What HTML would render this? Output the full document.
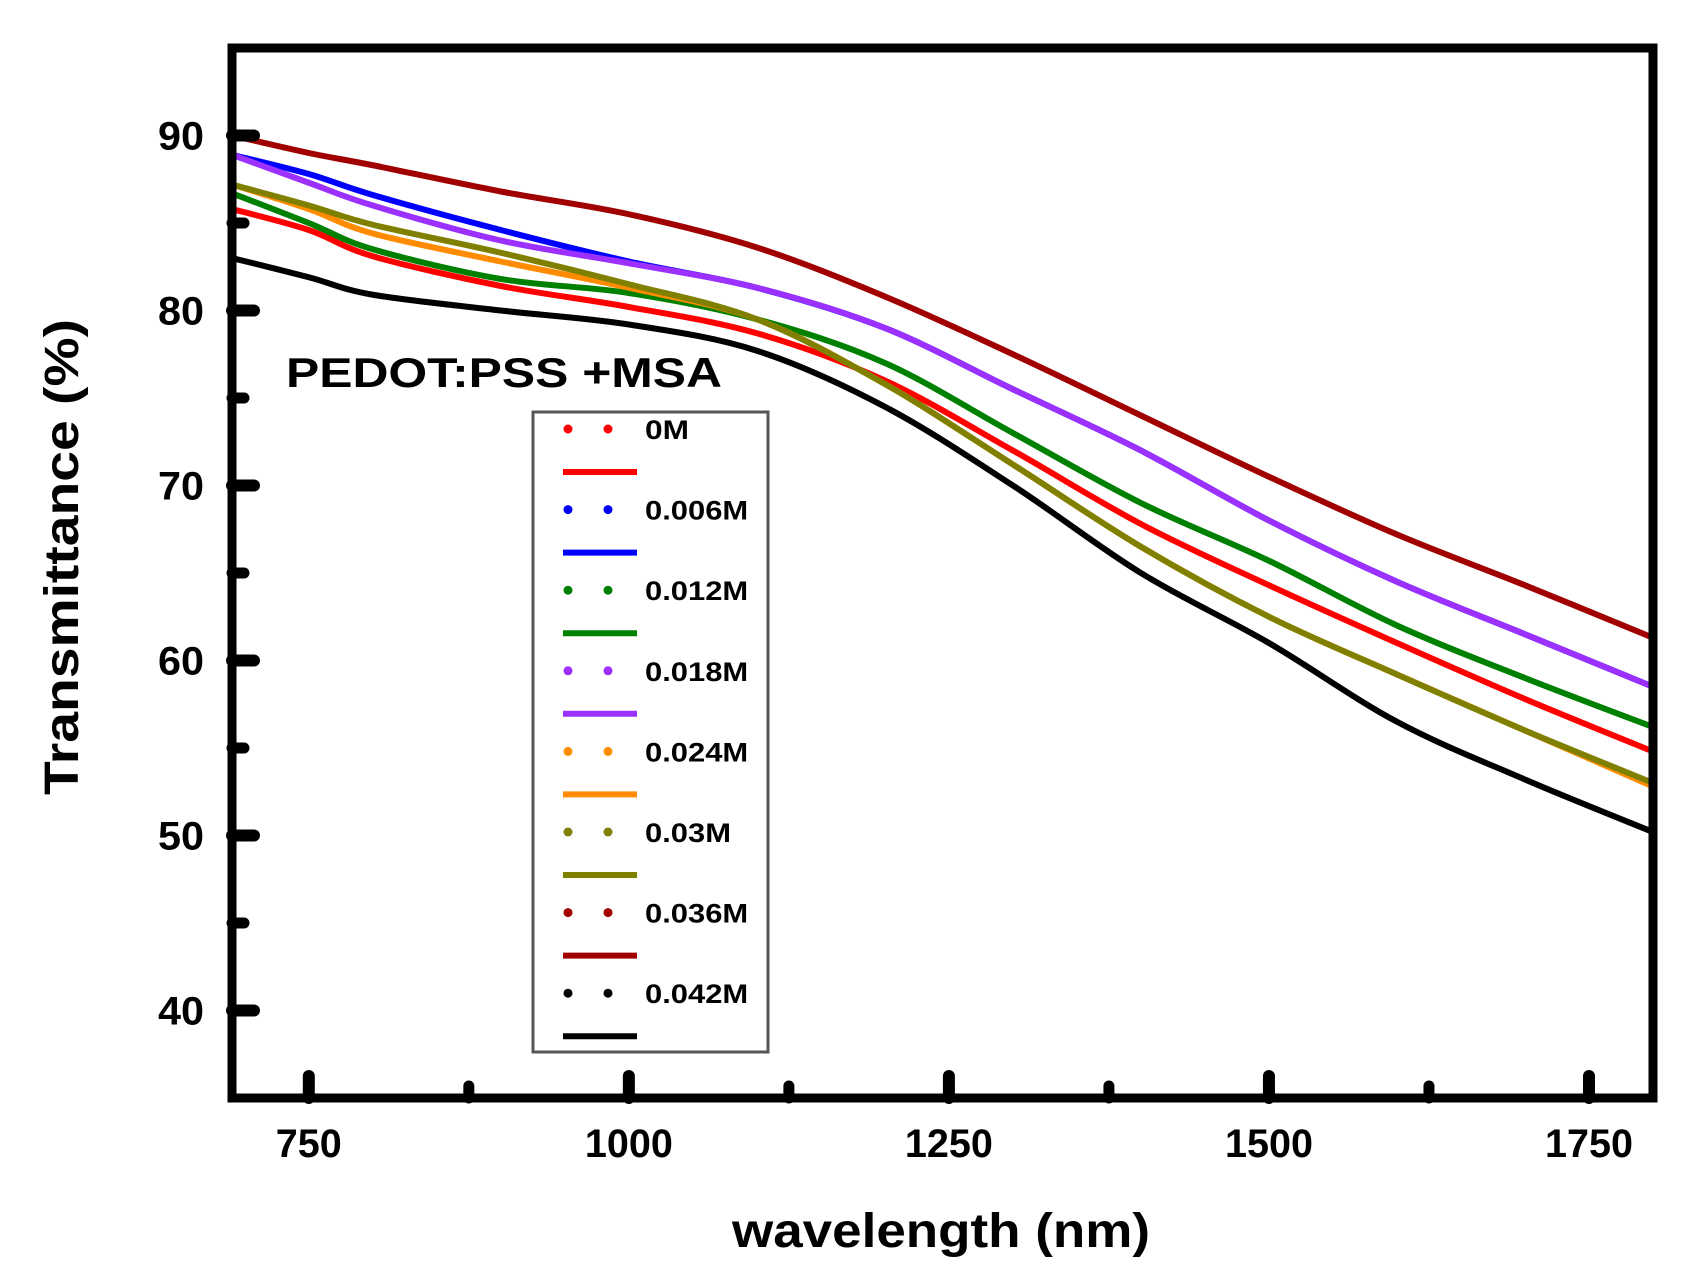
<!DOCTYPE html>
<html><head><meta charset="utf-8"><style>
html,body{margin:0;padding:0;background:#fff}
svg{display:block;font-family:"Liberation Sans",Arial,sans-serif;font-weight:bold}
</style></head><body>
<svg id="c" width="1688" height="1280" viewBox="0 0 1688 1280"></svg>
<script>
const wavelengths=[690,750,800,900,1000,1100,1200,1300,1400,1500,1600,1700,1800];
const labels=["0M","0.006M","0.012M","0.018M","0.024M","0.03M","0.036M","0.042M"];
const colors=["#ff0000","#0000ff","#008000","#9b30ff","#ff8c00","#808000","#a00000","#000000"];
const s0M=[85.8,84.6,83.1,81.4,80.2,78.7,76,72,67.8,64.3,61,57.8,54.8];
const s006=[88.9,87.8,86.6,84.6,82.8,81.3,79,75.5,72,68,64.5,61.5,58.5];
const s012=[86.7,85,83.5,81.8,81,79.5,77,73,69,65.7,62,59,56.2];
const s018=[88.9,87.3,86,84,82.7,81.3,79,75.5,72,68,64.5,61.5,58.5];
const s024=[87.2,85.8,84.4,82.8,81.3,79.5,75.8,71.2,66.5,62.5,59.2,56,52.8];
const s030=[87.2,86,84.9,83.3,81.5,79.5,75.8,71.2,66.5,62.5,59.2,56,53];
const s036=[90,89,88.3,86.8,85.5,83.6,80.8,77.5,74,70.5,67.2,64.3,61.3];
const s042=[83,81.9,80.9,80,79.2,77.7,74.5,70,65,61,56.5,53.2,50.2];
const series=[s0M,s006,s012,s018,s024,s030,s036,s042];
const xTicks=[750,1000,1250,1500,1750];
const xMinor=[875,1125,1375,1625];
const yTicks=[40,50,60,70,80,90];
const yMinor=[45,55,65,75,85];

const L=232,R=1653,T=48,B=1098;
const X0=690,X1=1800,Y0=35,Y1=95;
const xs=v=>L+(v-X0)/(X1-X0)*(R-L);
const ys=v=>B-(v-Y0)/(Y1-Y0)*(B-T);
const svg=document.getElementById('c');
const NS="http://www.w3.org/2000/svg";
function mk(tag,at,parent){const e=document.createElementNS(NS,tag);for(const k in at)e.setAttribute(k,at[k]);(parent||svg).appendChild(e);return e;}

const defs=mk('defs',{});
const cp=mk('clipPath',{id:'clip'},defs);mk('rect',{x:L,y:T,width:R-L,height:B-T},cp);

const g=mk('g',{'clip-path':'url(#clip)'});


function smooth(pts){
  let d='M'+pts[0][0]+','+pts[0][1];
  for(let i=0;i<pts.length-1;i++){
    const p0=pts[Math.max(0,i-1)],p1=pts[i],p2=pts[i+1],p3=pts[Math.min(pts.length-1,i+2)];
    const c1x=p1[0]+(p2[0]-p0[0])/6,c1y=p1[1]+(p2[1]-p0[1])/6;
    const c2x=p2[0]-(p3[0]-p1[0])/6,c2y=p2[1]-(p3[1]-p1[1])/6;
    d+=' C'+c1x+','+c1y+' '+c2x+','+c2y+' '+p2[0]+','+p2[1];
  }
  return d;
}
series.forEach((s,i)=>{
  const pts=s.map((v,j)=>[xs(wavelengths[j]),ys(v)]);
  const p=mk('path',{d:smooth(pts),fill:'none',stroke:colors[i],'stroke-width':6,'stroke-linejoin':'round'},g);
  
  
});

const fr=mk('rect',{x:L,y:T,width:R-L,height:B-T,fill:'none',stroke:'#000','stroke-width':9});



xTicks.forEach(v=>{
  const t=mk('line',{x1:xs(v),x2:xs(v),y1:B,y2:B-22,stroke:'#000','stroke-width':12,'stroke-linecap':'round'});
  
  
  const tx=mk('text',{x:xs(v),y:1157,'text-anchor':'middle','font-size':40,fill:'#000',textLength:88,lengthAdjust:'spacingAndGlyphs'});
  tx.textContent=v;
  if(String(v).length<4)tx.setAttribute('textLength',66);
  
  
});
xMinor.forEach(v=>{
  const t=mk('line',{x1:xs(v),x2:xs(v),y1:B,y2:B-12,stroke:'#000','stroke-width':11,'stroke-linecap':'round'});
  
  
});
yTicks.forEach(v=>{
  const t=mk('line',{x1:L,x2:L+22,y1:ys(v),y2:ys(v),stroke:'#000','stroke-width':12,'stroke-linecap':'round'});
  
  
  const tx=mk('text',{x:181,y:ys(v)+14,'text-anchor':'middle','font-size':40,fill:'#000',textLength:46,lengthAdjust:'spacingAndGlyphs'});
  tx.textContent=v;
  
  
});
yMinor.forEach(v=>{
  const t=mk('line',{x1:L,x2:L+12,y1:ys(v),y2:ys(v),stroke:'#000','stroke-width':11,'stroke-linecap':'round'});
  
  
});

const xt=mk('text',{x:941,y:1247,'text-anchor':'middle','font-size':48,fill:'#000',textLength:418,lengthAdjust:'spacingAndGlyphs'});
xt.textContent='wavelength (nm)';


const yt=mk('text',{x:0,y:0,transform:'translate(78,557) rotate(-90)','text-anchor':'middle','font-size':48,fill:'#000',textLength:476,lengthAdjust:'spacingAndGlyphs'});
yt.textContent='Transmittance (%)';



const an=mk('text',{x:286,y:387,'font-size':42,fill:'#000',textLength:436,lengthAdjust:'spacingAndGlyphs'});
an.textContent='PEDOT:PSS +MSA';



const lg=mk('g',{});


mk('rect',{x:533,y:412,width:235,height:640,fill:'#fff',stroke:'#555','stroke-width':3},lg);
labels.forEach((lab,i)=>{
  const y=429+i*80.6;
  const e=mk('g',{},lg);
  
  
  mk('circle',{cx:568,cy:y,r:4.5,fill:colors[i]},e);
  mk('circle',{cx:608,cy:y,r:4.5,fill:colors[i]},e);
  mk('line',{x1:563,x2:637,y1:y+43,y2:y+43,stroke:colors[i],'stroke-width':6},e);
  const w=lab==='0M'?44:lab.length*17.2;
  const t=mk('text',{x:645,y:y+10,'font-size':27,fill:'#000',textLength:w,lengthAdjust:'spacingAndGlyphs'},e);
  t.textContent=lab;
});
</script>
</body></html>
